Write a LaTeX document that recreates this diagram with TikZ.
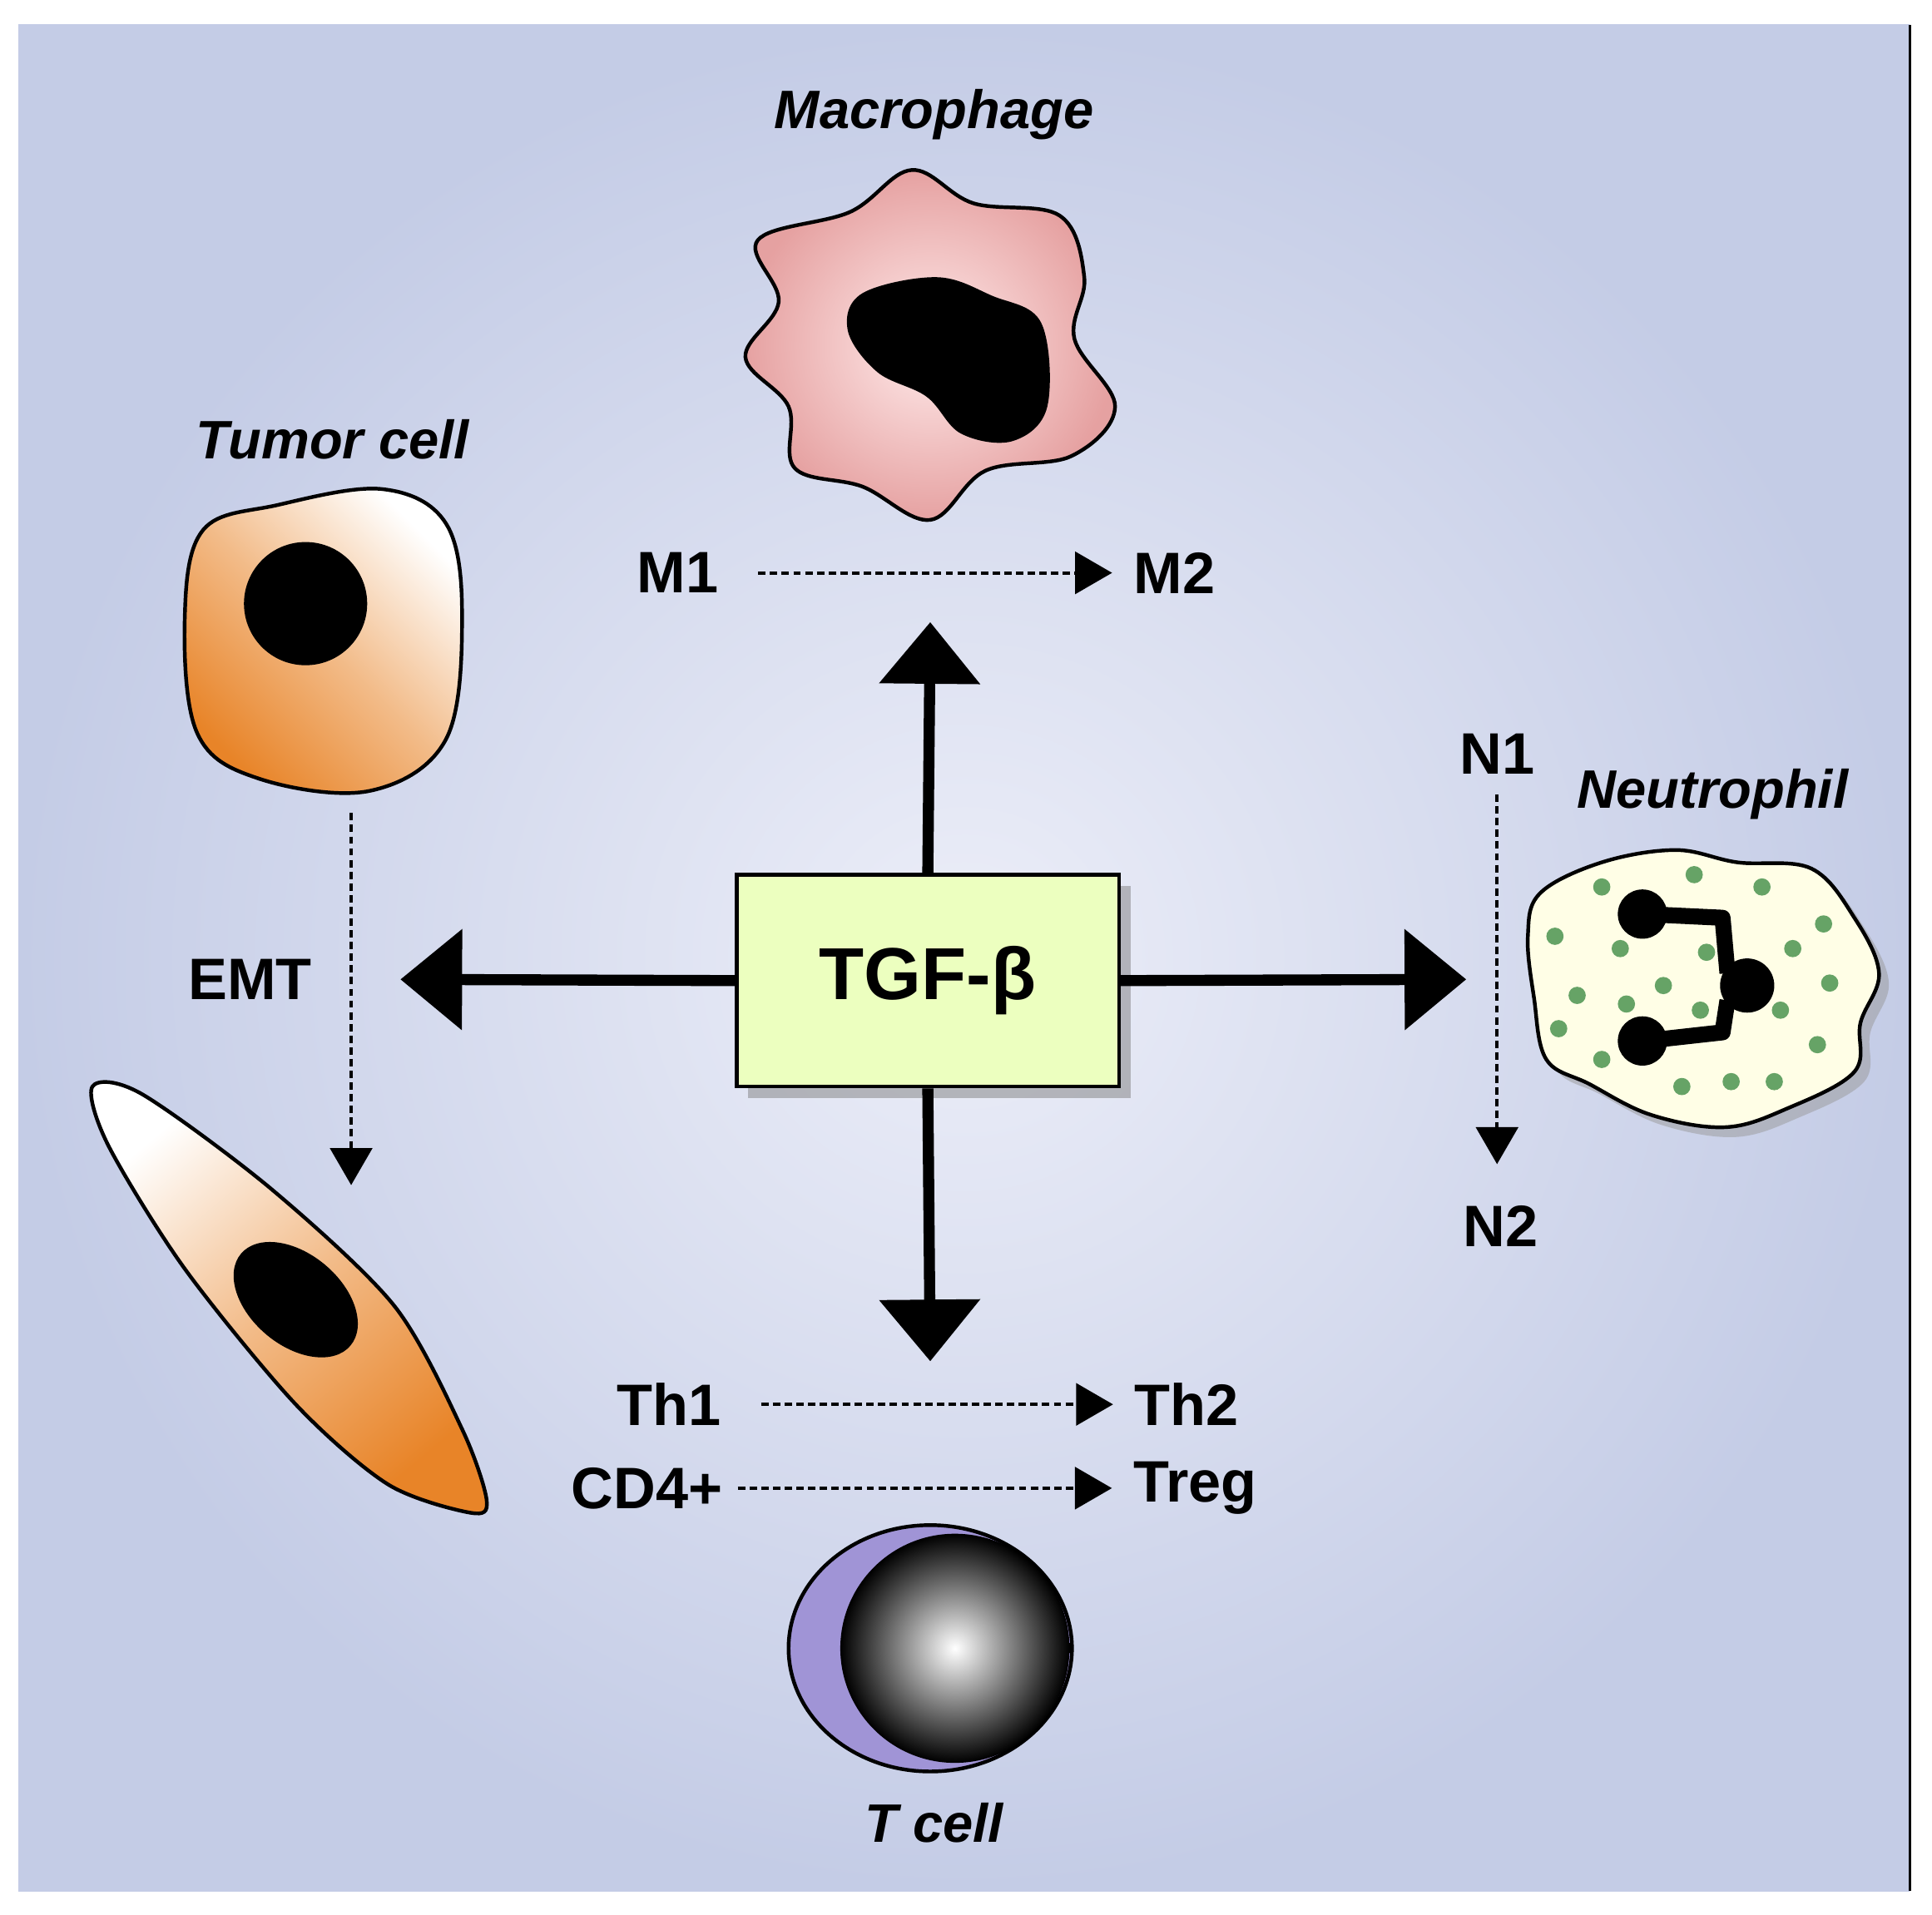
\documentclass[tikz,border=0pt]{standalone}
\usepackage{fontspec}
\setmainfont{Liberation Sans}
\usetikzlibrary{arrows.meta,shadows}
\definecolor{bgout}{RGB}{196,204,230}
\definecolor{bgin}{RGB}{236,238,248}
\definecolor{orng}{RGB}{232,132,40}
\definecolor{tpur}{RGB}{160,148,214}
\begin{document}
\begin{tikzpicture}[x=0.01cm,y=-0.01cm,
  big/.style={line width=0.09cm,-{Triangle[length=0.5cm,width=0.8cm]}},
  dsh/.style={line width=0.028cm,dash pattern=on 0.06cm off 0.035cm,-{Triangle[length=0.3cm,width=0.34cm]}},
  lab/.style={font=\bfseries\fontsize{13.5}{15}\selectfont},
  ttl/.style={font=\bfseries\itshape\fontsize{12.5}{15}\selectfont},
  cellline/.style={line width=0.03cm}]
\useasboundingbox (0,0) rectangle (1568,1554);
\fill[white] (0,0) rectangle (1568,1554);
\shade[inner color=bgin, outer color=bgout] (15,20) rectangle (1550,1535);
\draw[line width=0.02cm] (1550,20) -- (1550,1535);

% TGF-beta
\node[draw,line width=0.03cm,fill=green!30!yellow!25!white,minimum width=3.1cm,minimum height=1.72cm,drop shadow,font=\bfseries\fontsize{17}{20}\selectfont] (tgf) at (753,796) {TGF-β};
\coordinate (up) at (755,505);
\coordinate (lf) at (325,795);
\coordinate (rt) at (1190,795);
\coordinate (dn) at (755,1105);
\draw[big] (tgf.north) -- (up);
\draw[big] (tgf.west) -- (lf);
\draw[big] (tgf.east) -- (rt);
\draw[big] (tgf.south) -- (dn);

% labels
\node[lab] (m1) at (550,465) {M1};
\node[lab] (m2) at (953,465) {M2};
\draw[dsh] ([xshift=0.2cm]m1.east) -- ([xshift=-0.05cm]m2.west);
\node[lab] (th1) at (543,1140) {Th1};
\node[lab] (th2) at (963,1140) {Th2};
\draw[dsh] ([xshift=0.2cm]th1.east) -- ([xshift=-0.05cm]th2.west);
\node[lab] (cd4) at (525,1208) {CD4+};
\node[lab] (treg) at (970,1208) {Treg};
\draw[dsh] (cd4.east) -- ([xshift=-0.05cm]treg.west);
\node[lab] (n1) at (1215,612) {N1};
\node[lab] (n2) at (1218,995) {N2};
\draw[dsh] (1215,645) -- (1215,945);
\node[lab] (emt) at (203,795) {EMT};
\coordinate (e1) at (285,660); \coordinate (e2) at (285,962);
\draw[dsh] (e1) -- (e2);

\node[ttl] (tmac) at (758,93) {Macrophage};
\node[ttl] (ttum) at (270,357) {Tumor cell};
\node[ttl] (tneu) at (1390,645) {Neutrophil};
\node[ttl] (ttc) at (758,1480) {T cell};

% Macrophage
\shade[inner color=red!8!white, outer color=red!30!white!90!black, draw=black, cellline]
 plot[smooth cycle, tension=0.6] coordinates {(615,195)(690,172)(740,138)(790,165)(860,175)(880,225)(872,275)(905,330)(870,370)(800,382)(755,422)(700,395)(645,380)(640,330)(605,290)(632,245)};
\fill[black] plot[smooth cycle, tension=0.6] coordinates {(688,268)(700,238)(760,225)(805,240)(845,262)(850,330)(822,358)(780,352)(752,322)(712,302)};

% Tumor cell
\shade[draw=black, cellline, top color=white, bottom color=orng, middle color=orng!55!white, shading angle=-45]
 plot[smooth cycle, tension=0.6] coordinates {(165,430)(225,410)(310,397)(362,425)(375,500)(362,600)(300,642)(210,632)(160,595)(150,500)};
\fill[black] (248,490) circle (50);

% EMT cell
\shade[draw=black, cellline, top color=white, bottom color=orng, middle color=orng!55!white, shading angle=40]
 plot[smooth cycle, tension=0.5] coordinates {(75,882)(115,888)(220,965)(320,1060)(375,1160)(395,1218)(382,1228)(315,1205)(240,1140)(150,1030)(88,930)};
\fill[black,rotate around={-40:(240,1055)}] (240,1055) ellipse (58 and 37);

% Neutrophil
\fill[black!40, opacity=0.5] plot[smooth cycle, tension=0.6] coordinates {(1258,733)(1308,708)(1368,698)(1418,708)(1478,713)(1513,753)(1533,798)(1518,838)(1513,878)(1458,908)(1408,923)(1348,913)(1298,888)(1263,868)(1253,818)(1248,768)};
\draw[fill=yellow!10!white, cellline] plot[smooth cycle, tension=0.6] coordinates {(1250,725)(1300,700)(1360,690)(1410,700)(1470,705)(1505,745)(1525,790)(1510,830)(1505,870)(1450,900)(1400,915)(1340,905)(1290,880)(1255,860)(1245,810)(1240,760)};
\foreach \p in {(1300,720),(1375,710),(1430,720),(1480,750),(1262,760),(1315,770),(1385,773),(1455,770),(1485,798),(1350,800),(1280,808),(1265,835),(1320,815),(1380,820),(1445,820),(1300,860),(1365,882),(1405,878),(1440,878),(1475,848)}
  \fill[green!40!black!60!white] \p circle (7);
\draw[line width=0.13cm, line join=round] (1335,742) -- (1398,745) -- (1402,790);
\draw[line width=0.13cm, line join=round] (1402,812) -- (1398,838) -- (1335,845);
\fill (1333,742) circle (20);
\fill (1418,800) circle (22);
\fill (1333,845) circle (20);

% T cell
\fill[tpur, draw=black, cellline] (755,1338) ellipse (115 and 100);
\shade[inner color=white, outer color=black] (775,1338) circle (93);
\end{tikzpicture}
\end{document}
